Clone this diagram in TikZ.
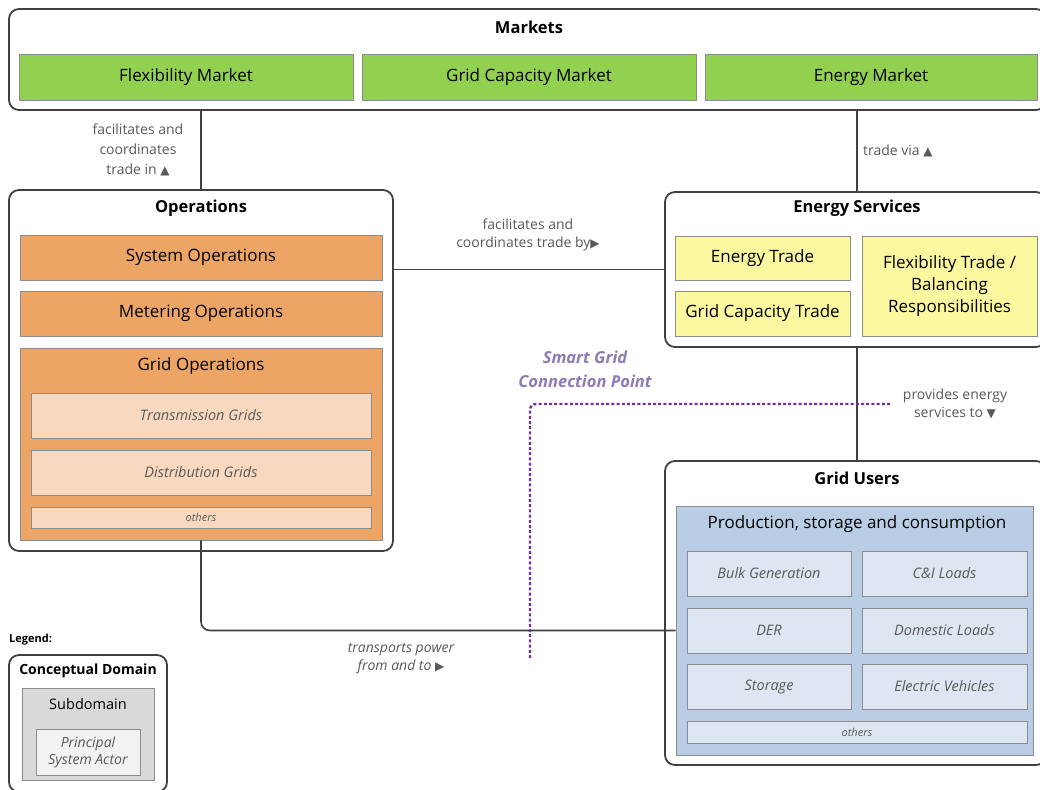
\documentclass[tikz,border=0pt]{standalone}
\usepackage{fontspec}
\setmainfont{Open Sans}
\newfontfamily\symfont{DejaVu Sans}
\usetikzlibrary{positioning}

\definecolor{frame}{HTML}{404040}
\definecolor{subline}{HTML}{8C8C8C}
\definecolor{mktgreen}{HTML}{92D050}
\definecolor{opsorange}{HTML}{EDA566}
\definecolor{opspeach}{HTML}{F8D9C0}
\definecolor{esyellow}{HTML}{FBF8A0}
\definecolor{gublue}{HTML}{B9CDE5}
\definecolor{gulight}{HTML}{DDE6F1}
\definecolor{lgdgray}{HTML}{D9D9D9}
\definecolor{lgdlight}{HTML}{F2F2F2}
\definecolor{reltext}{HTML}{595959}
\definecolor{sgtext}{HTML}{8C7BB5}
\definecolor{sgline}{HTML}{7030A0}

% direction marks used in the relation labels
\newcommand{\relup}{{\upshape\symfont\fontsize{12}{12}\selectfont ▲}}
\newcommand{\reldown}{{\upshape\symfont\fontsize{12}{12}\selectfont ▼}}
\newcommand{\relright}{{\upshape\symfont\fontsize{12}{12}\selectfont ▶}}

\begin{document}
\begin{tikzpicture}[x=1pt,y=-1pt,
  domainbox/.style={draw=frame, line width=1.8pt, rounded corners=10pt, fill=white, inner sep=0pt},
  subbox/.style={draw=subline, line width=0.8pt, inner sep=0pt, align=center, text=black,
                 font=\fontsize{17}{22}\selectfont},
  marketbox/.style={subbox, fill=mktgreen},
  opsbox/.style={subbox, fill=opsorange},
  gridbox/.style={subbox, fill=opspeach, text=reltext, font=\itshape\fontsize{14.5}{17}\selectfont},
  esbox/.style={subbox, fill=esyellow},
  gubox/.style={subbox, fill=gublue},
  userbox/.style={subbox, fill=gulight, text=reltext, font=\itshape\fontsize{14.5}{17}\selectfont},
  otherbox/.style={font=\itshape\fontsize{11}{13}\selectfont},
  titletext/.style={font=\bfseries\fontsize{16.5}{19}\selectfont, inner sep=0pt},
  subtitletext/.style={font=\fontsize{17}{20}\selectfont, inner sep=0pt},
  reltag/.style={font=\fontsize{14}{18}\selectfont, text=reltext, align=center, inner sep=0pt},
  linkline/.style={draw=frame, line width=1.6pt},
  sgcline/.style={draw=sgline, line width=2.4pt, dash pattern=on 3pt off 2.2pt, rounded corners=6pt}
]
\useasboundingbox (0,0) rectangle (1040,789);

% ---- Markets ----
\node[domainbox, minimum width=1037, minimum height=101] (markets) at (527.5,59.5) {};
\node[titletext] (mktitle) at (529,27) {Markets};
\node[marketbox, minimum width=334, minimum height=46] (flexm) at (186,77) {Flexibility Market};
\node[marketbox, minimum width=334, minimum height=46] (capm) at (529,77) {Grid Capacity Market};
\node[marketbox, minimum width=332, minimum height=46] (enm) at (871,77) {Energy Market};

% ---- Operations ----
\node[domainbox, minimum width=384, minimum height=361] (ops) at (201,370.5) {};
\node[titletext] (opstitle) at (201,208) {Operations};
\node[opsbox, minimum width=362, minimum height=45] (sysop) at (201,257.5) {System Operations};
\node[opsbox, minimum width=362, minimum height=45] (metop) at (201,313.5) {Metering Operations};
\node[opsbox, minimum width=362, minimum height=192] (gridop) at (201,444) {};
\node[subtitletext] (gridoptitle) at (201,366) {Grid Operations};
\node[gridbox, minimum width=340, minimum height=45] (trans) at (201,415.5) {Transmission Grids};
\node[gridbox, minimum width=340, minimum height=45] (dist) at (201,472.5) {Distribution Grids};
\node[gridbox, otherbox, minimum width=340, minimum height=21] (opsothers) at (201,517.5) {others};

% ---- Energy Services ----
\node[domainbox, minimum width=381, minimum height=155] (es) at (855.5,269.5) {};
\node[titletext] (estitle) at (857,208) {Energy Services};
\node[esbox, minimum width=175, minimum height=44] (etrade) at (762.5,258) {Energy Trade};
\node[esbox, minimum width=175, minimum height=45] (ctrade) at (762.5,313.5) {Grid Capacity Trade};
\node[esbox, minimum width=175, minimum height=100] (ftrade) at (949.5,286)
  {Flexibility Trade /\\Balancing\\Responsibilities};

% ---- Grid Users ----
\node[domainbox, minimum width=381, minimum height=304] (gu) at (855.5,613) {};
\node[titletext] (gutitle) at (857,478) {Grid Users};
\node[gubox, minimum width=357, minimum height=249] (psc) at (854.5,630.5) {};
\node[subtitletext] (psctitle) at (857,524) {Production, storage and consumption};
\node[userbox, minimum width=164, minimum height=45] (bulk) at (769,573.5) {Bulk Generation};
\node[userbox, minimum width=165, minimum height=45] (ci) at (944.5,573.5) {C\&I Loads};
\node[userbox, minimum width=164, minimum height=45] (der) at (769,630.5) {DER};
\node[userbox, minimum width=165, minimum height=45] (dom) at (944.5,630.5) {Domestic Loads};
\node[userbox, minimum width=164, minimum height=45] (stor) at (769,686.5) {Storage};
\node[userbox, minimum width=165, minimum height=45] (ev) at (944.5,686.5) {Electric Vehicles};
\node[userbox, otherbox, minimum width=340, minimum height=22] (guothers) at (857,732) {others};

% ---- Relations ----
\draw[linkline] (ops.north) -- (ops.north |- markets.south);
\draw[linkline] (estitle |- markets.south) -- (estitle |- es.north);
\draw[linkline] (ops.east |- es.west) -- (es.west);
\draw[linkline] (estitle |- es.south) -- (estitle |- gu.north);
\draw[linkline, rounded corners=9pt] (gridop.south) |- (psc.west);

\node[reltag, font=\fontsize{14}{20}\selectfont] (rel1) at (138,150) {facilitates and\\coordinates\\trade in \relup};
\node[reltag, anchor=west] (rel2) at (863,151) {trade via \relup};
\node[reltag] (rel3) at (528,235) {facilitates and\\coordinates trade by\relright};
\node[reltag] (rel4) at (955,404) {provides energy\\services to \reldown};
\node[reltag, font=\itshape\fontsize{14}{18}\selectfont] (rel5) at (401,659) {transports power\\from and to \relright};

% ---- Smart Grid Connection Point ----
\node[font=\bfseries\itshape\fontsize{16.5}{24}\selectfont, text=sgtext, align=center, inner sep=0pt]
  (sgcp) at (585,369) {Smart Grid\\Connection Point};
\coordinate (sgA) at (890,404);
\coordinate (sgB) at (530,404);
\coordinate (sgC) at (530,660);
\draw[sgcline] (sgA) -- (sgB) -- (sgC);

% ---- Legend ----
\node[font=\bfseries\fontsize{11}{13}\selectfont, inner sep=0pt, anchor=west] (lgdhead) at (9,640) {Legend:};
\node[domainbox, minimum width=158, minimum height=137] (lgd) at (88,723.5) {};
\node[titletext, font=\bfseries\fontsize{14}{18}\selectfont] (lgdtitle) at (88,671) {Conceptual Domain};
\node[subbox, fill=lgdgray, minimum width=132, minimum height=92] (lgdsub) at (88,734) {};
\node[subtitletext, font=\fontsize{14.5}{18}\selectfont] (lgdsubtitle) at (88,704) {Subdomain};
\node[subbox, fill=lgdlight, text=reltext, font=\itshape\fontsize{14}{17}\selectfont,
      minimum width=104, minimum height=46] (lgdactor) at (88,752) {Principal\\System Actor};
\end{tikzpicture}
\end{document}
